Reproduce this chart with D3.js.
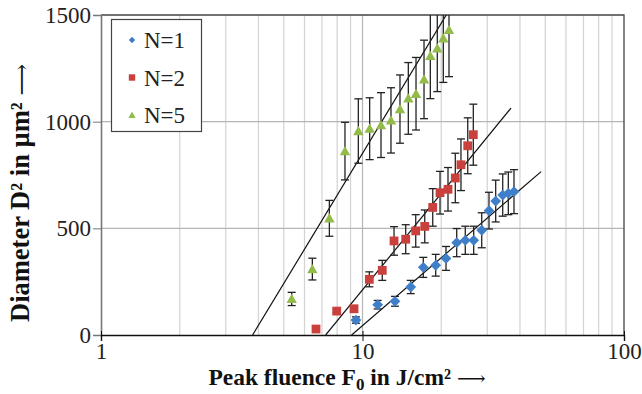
<!DOCTYPE html>
<html>
<head>
<meta charset="utf-8">
<script src="https://cdn.jsdelivr.net/npm/d3@7"></script>
<style>
  body { margin: 0; background: #fff; }
  svg text { font-family: "Liberation Serif", "DejaVu Serif", serif; }
</style>
</head>
<body>
<svg id="chart" width="642" height="394"></svg>
<script>
// peak fluence F0 (J/cm2), D2 (um2) and error (+/-) per series
var fluenceN1 = [9.44, 11.43, 13.31, 15.29, 17.08, 19.05, 20.86, 22.92, 24.72, 26.62, 28.57, 30.46, 32.31, 34.37, 36.11, 37.96];
var diamN1    = [70, 142, 158, 225, 317, 327, 359, 433, 444, 444, 491, 583, 628, 656, 664, 672];
var errN1     = [15, 20, 23, 31, 47, 51, 56, 66, 66, 66, 82, 86, 98, 99, 100, 103];

var fluenceN2 = [6.64, 7.97, 9.28, 10.62, 11.90, 13.20, 14.63, 15.98, 17.30, 18.56, 19.79, 21.23, 22.64, 23.80, 25.26, 26.53];
var diamN2    = [28, 112, 123, 261, 303, 441, 449, 488, 509, 598, 667, 683, 736, 798, 887, 939];
var errN2     = [5, 8, 10, 35, 47, 67, 68, 76, 77, 88, 100, 102, 116, 121, 131, 143];

var fluenceN5 = [5.36, 6.43, 7.47, 8.57, 9.64, 10.65, 11.77, 12.85, 13.91, 14.97, 16.02, 17.19, 18.17, 19.32, 20.37, 21.42];
var diamN5    = [169, 309, 547, 862, 956, 967, 984, 1006, 1059, 1109, 1131, 1198, 1308, 1344, 1391, 1430];
var errN5     = [31, 51, 84, 135, 151, 145, 152, 153, 160, 168, 170, 184, 200, 203, 207, 219];

// fitted lines, [F0, D2] end points
var fitN1 = [[9.09, 0], [48.2, 766]];
var fitN2 = [[7.23, 0], [36.98, 1064]];
var fitN5 = [[3.80, 0], [24.5, 1640]];

var seriesNames = ["N=1", "N=2", "N=5"];
var xTicks = [1, 10, 100];
var yTicks = [0, 500, 1000, 1500];

(function () {
  var FONT = "'Liberation Serif', 'DejaVu Serif', serif";
  var series = [
    { name: seriesNames[0], f: fluenceN1, d: diamN1, e: errN1, fit: fitN1, color: "#3f7fca", shape: "diamond" },
    { name: seriesNames[1], f: fluenceN2, d: diamN2, e: errN2, fit: fitN2, color: "#c9403d", shape: "square" },
    { name: seriesNames[2], f: fluenceN5, d: diamN5, e: errN5, fit: fitN5, color: "#93bb4a", shape: "triangle" }
  ];

  var svg = d3.select("#chart");
  var mLeft = 101, mRight = 624, mTop = 15, mBottom = 335;

  var x = d3.scaleLog().domain([1, 100]).range([mLeft, mRight]);
  var y = d3.scaleLinear().domain([0, 1500]).range([mBottom, mTop]);

  svg.append("defs").append("clipPath").attr("id", "plotclip")
    .append("rect").attr("x", mLeft).attr("y", mTop)
    .attr("width", mRight - mLeft).attr("height", mBottom - mTop);

  // minor vertical grid
  var minor = [];
  [1, 10].forEach(function (dec) { for (var k = 2; k <= 9; k++) minor.push(dec * k); });
  svg.append("g").selectAll("line").data(minor).join("line")
    .attr("x1", d => x(d)).attr("x2", d => x(d))
    .attr("y1", mTop).attr("y2", mBottom)
    .attr("stroke", "#d3d3d3").attr("stroke-width", 1.2);

  svg.append("line")
    .attr("x1", x(10)).attr("x2", x(10)).attr("y1", mTop).attr("y2", mBottom)
    .attr("stroke", "#b5b5b5").attr("stroke-width", 1.2);

  svg.append("g").selectAll("line").data([500, 1000]).join("line")
    .attr("x1", mLeft).attr("x2", mRight)
    .attr("y1", d => y(d)).attr("y2", d => y(d))
    .attr("stroke", "#b5b5b5").attr("stroke-width", 1.2);

  // frame top / right
  svg.append("path")
    .attr("d", "M" + mLeft + "," + y(1500) + "H" + x(100) + "V" + mBottom)
    .attr("fill", "none").attr("stroke", "#444").attr("stroke-width", 1.3);

  // axes
  var yAxis = svg.append("g").attr("transform", "translate(" + mLeft + ",0)")
    .call(d3.axisLeft(y).tickValues(yTicks).tickSize(8).tickPadding(2).tickFormat(d3.format("d")));
  yAxis.select(".domain").attr("stroke", "#777").attr("stroke-width", 1.6);
  yAxis.selectAll(".tick line").attr("stroke", "#777");
  yAxis.selectAll("text").attr("font-size", 23).attr("font-family", FONT).attr("fill", "#222");

  var xAxis = svg.append("g").attr("transform", "translate(0," + mBottom + ")")
    .call(d3.axisBottom(x).tickValues(xTicks).tickSize(6).tickPadding(2).tickFormat(d3.format("d")));
  xAxis.select(".domain").attr("stroke", "#111").attr("stroke-width", 1.4);
  xAxis.selectAll(".tick line").attr("y1", -4).attr("stroke", "#111");
  xAxis.selectAll("text").attr("font-size", 23).attr("font-family", FONT).attr("fill", "#222");

  var plot = svg.append("g").attr("clip-path", "url(#plotclip)");

  // fit lines
  var line = d3.line().x(d => x(d[0])).y(d => y(d[1]));
  series.forEach(function (s) {
    plot.append("path").attr("d", line(s.fit))
      .attr("fill", "none").attr("stroke", "#111").attr("stroke-width", 1.2);
  });

  // error bars
  series.forEach(function (s) {
    var g = plot.append("g").attr("stroke", "#222").attr("stroke-width", 1.3);
    s.f.forEach(function (f, i) {
      var cx = x(f), y1 = y(s.d[i] + s.e[i]), y0 = y(s.d[i] - s.e[i]);
      g.append("line").attr("x1", cx).attr("x2", cx).attr("y1", y1).attr("y2", y0);
      g.append("line").attr("x1", cx - 4).attr("x2", cx + 4).attr("y1", y1).attr("y2", y1);
      g.append("line").attr("x1", cx - 4).attr("x2", cx + 4).attr("y1", y0).attr("y2", y0);
    });
  });

  function markerPath(shape, r) {
    if (shape === "diamond") return "M0," + (-r) + "L" + r + ",0L0," + r + "L" + (-r) + ",0Z";
    if (shape === "square") return "M" + (-r) + "," + (-r) + "H" + r + "V" + r + "H" + (-r) + "Z";
    return "M0," + (-r) + "L" + r + "," + (r * 0.8) + "L" + (-r) + "," + (r * 0.8) + "Z";
  }
  var markerSize = { diamond: 5.4, square: 4.4, triangle: 5.2 };

  series.forEach(function (s) {
    plot.append("g").selectAll("path").data(s.f).join("path")
      .attr("transform", (f, i) => "translate(" + x(f) + "," + y(s.d[i]) + ")")
      .attr("d", markerPath(s.shape, markerSize[s.shape]))
      .attr("fill", s.color);
  });

  // legend
  var lg = svg.append("g");
  lg.append("rect").attr("x", 111.5).attr("y", 19.5).attr("width", 90).attr("height", 112)
    .attr("fill", "#fff").attr("stroke", "#444").attr("stroke-width", 1.2);
  var legendSize = { diamond: 3.2, square: 3.2, triangle: 3.6 };
  series.forEach(function (s, i) {
    var cy = 40 + i * 37.5;
    lg.append("path").attr("transform", "translate(132," + cy + ")")
      .attr("d", markerPath(s.shape, legendSize[s.shape])).attr("fill", s.color);
    lg.append("text").attr("x", 144).attr("y", cy + 8).attr("font-size", 23)
      .attr("font-family", FONT).attr("fill", "#222").text(s.name);
  });

  // axis titles
  var xt = svg.append("text").attr("x", 347).attr("y", 385).attr("text-anchor", "middle")
    .attr("font-size", 23.5).attr("font-family", FONT).attr("font-weight", "bold").attr("fill", "#111");
  xt.append("tspan").text("Peak fluence F");
  xt.append("tspan").attr("font-size", 17).attr("dy", 5).text("0");
  xt.append("tspan").attr("dy", -5).text(" in J/cm² ");
  xt.append("tspan").attr("font-weight", "normal").attr("font-size", 20).text("⟶");

  var yt = svg.append("text").attr("transform", "translate(29,193) rotate(-90)").attr("text-anchor", "middle")
    .attr("font-size", 26.5).attr("font-family", FONT).attr("font-weight", "bold").attr("fill", "#111");
  yt.append("tspan").text("Diameter D² in µm² ");
  yt.append("tspan").attr("font-weight", "normal").attr("font-size", 22).text("⟶");
})();
</script>
</body>
</html>
